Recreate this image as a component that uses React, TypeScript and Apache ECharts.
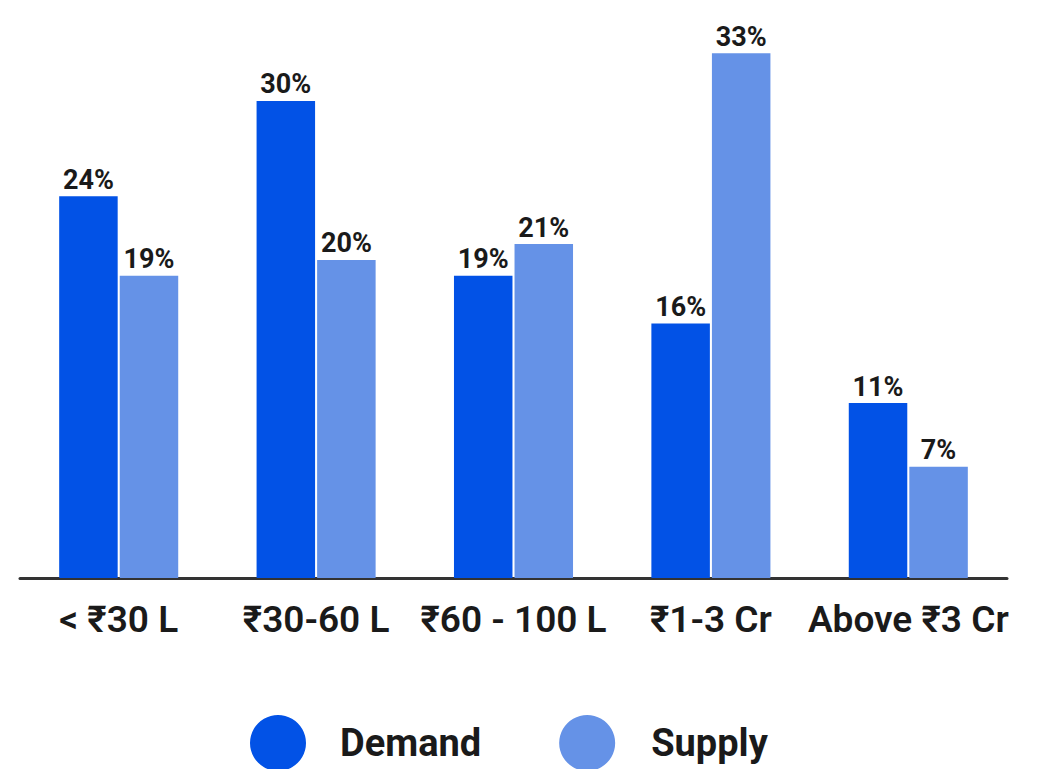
import React, { useEffect, useRef } from "react";
import * as echarts from "echarts";

const categories = ["< ₹30 L", "₹30-60 L", "₹60 - 100 L", "₹1-3 Cr", "Above ₹3 Cr"];
const demand = [24, 30, 19, 16, 11];
const supply = [19, 20, 21, 33, 7];

const FONT = "Roboto, 'Noto Sans', sans-serif";

export default function App() {
  const ref = useRef<HTMLDivElement>(null);
  useEffect(() => {
    if (!ref.current) return;
    const chart = echarts.init(ref.current, null, { renderer: "svg" });
    const label = {
      show: true,
      position: "top",
      distance: 3,
      formatter: "{c}%",
      color: "#1a1a1a",
      fontFamily: FONT,
      fontWeight: "bold",
      fontSize: 27,
    };
    chart.setOption({
      animation: false,
      grid: { left: 20, right: 34, top: 5.5, bottom: 191 },
      legend: {
        left: 245,
        top: 710,
        icon: "circle",
        itemWidth: 56,
        itemHeight: 56,
        itemGap: 78,
        textStyle: {
          color: "#1a1a1a",
          fontFamily: FONT,
          fontWeight: "bold",
          fontSize: 38,
          padding: [0, 0, 0, 29],
        },
        data: [
          { name: "Demand" },
          { name: "Supply", textStyle: { padding: [0, 0, 0, 31] } },
        ],
      },
      xAxis: {
        type: "category",
        data: categories,
        axisLine: { show: true, lineStyle: { color: "#333333", width: 3 } },
        axisTick: { show: false },
        axisLabel: {
          color: "#1a1a1a",
          fontFamily: FONT,
          fontWeight: 600,
          fontSize: 37,
          margin: 23,
          interval: 0,
        },
      },
      yAxis: {
        type: "value",
        min: 0,
        max: 36,
        show: false,
        splitLine: { show: false },
      },
      series: [
        {
          name: "Demand",
          type: "bar",
          data: demand,
          barWidth: 58.5,
          barGap: "3.5%",
          itemStyle: { color: "#0252E6" },
          label,
        },
        {
          name: "Supply",
          type: "bar",
          data: supply,
          barWidth: 58.5,
          itemStyle: { color: "#6592E7" },
          label,
        },
      ],
    });
    return () => chart.dispose();
  }, []);
  return (
    <div
      ref={ref}
      style={{ position: "fixed", left: 0, top: 0, width: 1041, height: 769, background: "#ffffff" }}
    />
  );
}
